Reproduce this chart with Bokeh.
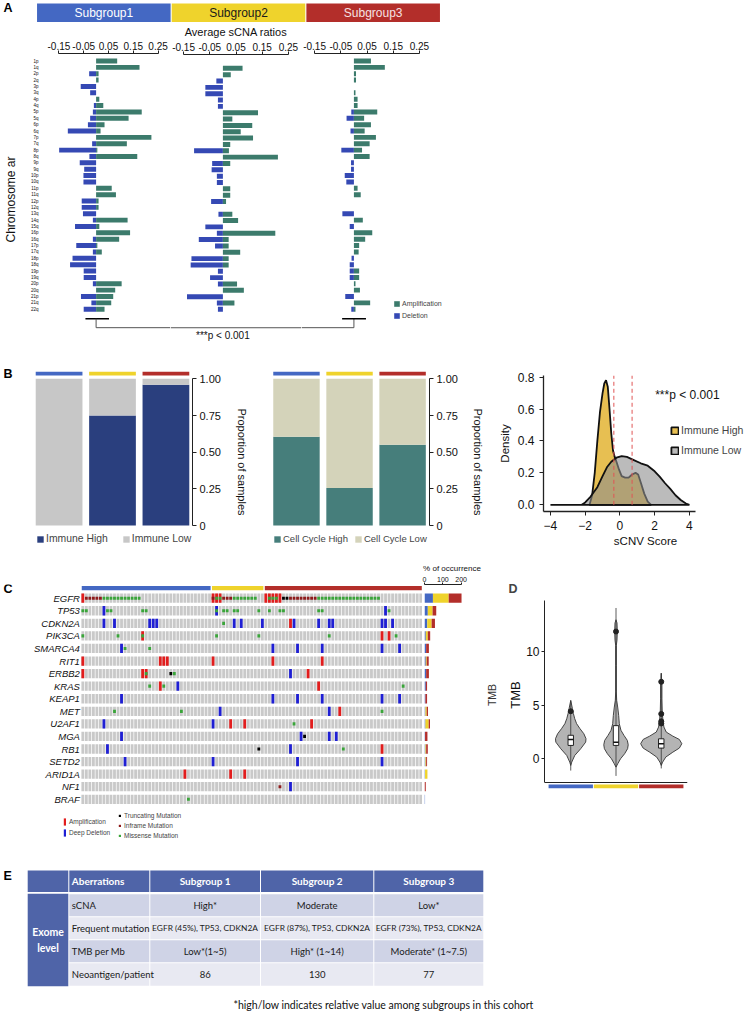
from bokeh.plotting import figure
from bokeh.models import (Range1d, FixedTicker, NumeralTickFormatter, LinearAxis,
                          Legend, LegendItem, Label, ColumnDataSource)
from bokeh.layouts import row, column
from bokeh.core.properties import value
from bokeh.embed import file_html
from bokeh.resources import INLINE

# ------------------------------------------------------------------ data
SUBGROUPS = ["Subgroup1", "Subgroup2", "Subgroup3"]
ARMS = ["1p", "1q", "2p", "2q", "3p", "3q", "4p", "4q", "5p", "5q", "6p", "6q", "7p", "7q",
        "8p", "8q", "9p", "9q", "10p", "10q", "11p", "11q", "12p", "12q", "13q", "14q", "15q",
        "16p", "16q", "17p", "17q", "18p", "18q", "19p", "19q", "20p", "20q", "21p", "21q", "22q"]
SG1_AMP = [0.085, 0.175, 0.01, 0.01, 0, 0, 0.013, 0.029, 0.184, 0.131, 0.034, 0.018, 0.223, 0.124,
           0.005, 0.166, 0, 0, 0, 0, 0.063, 0.08, 0.01, 0.01, 0, 0.127, 0.013, 0.137, 0.093, 0.005,
           0.023, 0, 0, 0, 0, 0.103, 0.077, 0.069, 0.061, 0.034]
SG1_DEL = [0, 0, -0.028, 0, -0.062, -0.024, 0, -0.009, -0.013, -0.024, -0.033, -0.114, 0, -0.016,
           -0.149, -0.027, -0.066, -0.048, -0.051, -0.051, 0, 0, -0.058, -0.058, -0.053, -0.013,
           -0.085, 0, -0.013, -0.08, -0.013, -0.095, -0.105, -0.05, -0.05, -0.013, 0, -0.061,
           -0.019, -0.05]
SG2_AMP = [0, 0.075, 0.03, 0, 0, 0, 0, 0, 0.134, 0.036, 0.112, 0.068, 0.115, 0.028, 0.023, 0.21,
           0.028, 0, 0, 0, 0.028, 0.028, 0.012, 0, 0.036, 0.058, 0, 0.2, 0.022, 0.022, 0.066,
           0.022, 0.022, 0, 0, 0.054, 0.08, 0, 0.044, 0]
SG2_DEL = [0, 0, 0, -0.025, -0.067, -0.067, -0.019, -0.019, 0, 0, 0, 0, 0, 0, -0.11, 0, -0.041,
           -0.043, -0.023, -0.023, 0, 0, -0.045, 0, -0.017, 0, -0.067, -0.023, -0.092, -0.03, 0,
           -0.12, -0.123, -0.019, -0.049, -0.019, 0, -0.137, -0.023, -0.019]
SG3_AMP = [0.065, 0.118, 0.008, 0.008, 0, 0.006, 0.014, 0.014, 0.089, 0.039, 0.065, 0.041, 0.084,
           0.06, 0.031, 0.06, 0, 0, 0, 0, 0.014, 0.026, 0, 0, 0, 0.034, 0, 0.07, 0.043, 0.02,
           0.018, 0, 0, 0.02, 0.02, 0.006, 0.023, 0, 0.062, 0.006]
SG3_DEL = [0, 0, 0, 0, 0, 0, 0, 0, -0.01, -0.028, 0, -0.013, 0, 0, -0.048, 0, -0.011, -0.011,
           -0.035, -0.029, 0, 0, 0, 0, -0.044, 0, -0.016, 0, 0, 0, 0, -0.009, -0.016, -0.016,
           -0.016, 0, 0, -0.033, 0, -0.01]
A_TICKS = [-0.15, -0.05, 0.05, 0.15, 0.25]

IMMUNE_HIGH = [0.0, 0.75, 0.96]
IMMUNE_LOW = [1.0, 0.25, 0.04]
CC_HIGH = [0.605, 0.255, 0.55]
CC_LOW = [0.395, 0.745, 0.45]

DENS_HIGH_X = [-1.75, -1.6, -1.45, -1.3, -1.15, -1.0, -0.9, -0.8, -0.7, -0.6, -0.5, -0.4, -0.3,
               -0.2, -0.05, 0.1, 0.3, 0.5, 0.7, 0.9, 1.05, 1.2, 1.4, 1.6, 1.8]
DENS_HIGH_Y = [0, 0.06, 0.2, 0.4, 0.58, 0.7, 0.76, 0.78, 0.74, 0.6, 0.45, 0.34, 0.3, 0.27, 0.22,
               0.18, 0.17, 0.17, 0.19, 0.2, 0.19, 0.14, 0.07, 0.02, 0]
DENS_LOW_X = [-4.0, -2.2, -2.0, -1.7, -1.3, -1.0, -0.75, -0.5, -0.2, 0.1, 0.4, 0.8, 1.2, 1.6, 2.0,
              2.3, 2.6, 2.9, 3.2, 3.5, 3.8, 4.0]
DENS_LOW_Y = [0, 0, 0.015, 0.05, 0.11, 0.18, 0.235, 0.27, 0.295, 0.305, 0.3, 0.28, 0.26, 0.245,
              0.21, 0.175, 0.135, 0.1, 0.06, 0.03, 0.008, 0]
SCNV_MEANS = [-0.35, 0.7]
P_TEXT = "***p < 0.001"

GENES = ["EGFR", "TP53", "CDKN2A", "PIK3CA", "SMARCA4", "RIT1", "ERBB2", "KRAS", "KEAP1", "MET",
         "U2AF1", "MGA", "RB1", "SETD2", "ARID1A", "NF1", "BRAF"]
GROUP_SIZES = [37, 15, 45]
AMP = {"EGFR": [0, 37, 38, 39, 52, 53, 54, 55, 56], "CDKN2A": [59], "PIK3CA": [17, 85, 87],
       "RIT1": [0, 22, 23, 24, 37, 54, 68], "ERBB2": [0, 17, 18, 64], "KRAS": [22, 67],
       "MET": [73], "U2AF1": [42, 46, 65], "RB1": [85], "ARID1A": [29, 42, 46]}
DEEP_DEL = {"TP53": [6, 38, 86],
            "CDKN2A": [6, 9, 19, 20, 21, 43, 45, 51, 60, 67, 70, 71, 85, 86, 88],
            "SMARCA4": [11, 54, 61, 68, 85, 90], "ERBB2": [59], "KRAS": [27],
            "KEAP1": [11, 54, 61, 68, 85, 90], "MET": [39, 70], "U2AF1": [6, 37],
            "MGA": [11, 62, 70, 72], "RB1": [7, 59], "SETD2": [12, 37, 61, 85], "NF1": [59]}
MISSENSE = {"EGFR": [6, 7, 8, 9, 10, 11, 12, 13, 14, 15, 16, 38, 39, 43, 44, 45, 46, 47, 48, 49,
                     53, 54, 55, 67, 68, 69, 70, 71, 72, 73, 74, 75, 76, 77, 78, 79, 80, 81, 82,
                     83, 84],
            "TP53": [0, 1, 7, 8, 17, 18, 38, 40, 41, 43, 44, 50, 53, 56, 57, 67, 68, 87],
            "CDKN2A": [40], "PIK3CA": [0, 10, 17, 38, 50, 70, 89], "SMARCA4": [12, 19],
            "ERBB2": [18, 26], "KRAS": [19, 23, 91], "MET": [9, 28, 85], "U2AF1": [60],
            "RB1": [74], "BRAF": [30]}
TRUNC = {"EGFR": [57, 58], "ERBB2": [25], "MGA": [63], "RB1": [50]}
INFRAME = {"EGFR": [1, 2, 3, 4, 5, 37, 40, 41, 42, 59, 60, 61, 62, 63, 64, 65, 66], "NF1": [56]}
OCC_SG1 = [46, 18, 15, 7, 9, 7, 9, 7, 5, 5, 5, 3, 5, 5, 3, 0, 3]
OCC_SG2 = [86, 26, 24, 11, 0, 5, 0, 0, 0, 7, 18, 0, 4, 4, 13, 0, 0]
OCC_SG3 = [70, 20, 18, 13, 15, 11, 15, 7, 9, 7, 7, 13, 9, 5, 0, 7, 0]
OCC_TICKS = [0, 100, 200]

VIOLIN_Y = [[-0.62, -0.31, 0.31, 0.94, 1.56, 1.88, 2.34, 2.81, 3.28, 3.75, 4.22, 4.69, 5.31, 5.47],
            [-0.78, -0.47, 0.0, 0.47, 0.94, 1.31, 1.72, 2.19, 2.66, 3.28, 4.06, 4.84, 5.47, 6.25,
             8.75, 10.6, 11.1, 11.9, 12.7, 13.0],
            [-0.62, -0.31, 0.16, 0.62, 1.0, 1.41, 1.81, 2.12, 2.5, 2.97, 3.59, 4.38, 5.6, 6.9,
             7.5, 8.0]]
VIOLIN_W = [[0, 0.022, 0.088, 0.22, 0.33, 0.337, 0.29, 0.205, 0.13, 0.088, 0.059, 0.037, 0.007, 0],
            [0, 0.037, 0.1, 0.19, 0.256, 0.27, 0.25, 0.176, 0.11, 0.073, 0.059, 0.037, 0.015,
             0.007, 0.007, 0.007, 0.022, 0.029, 0.022, 0],
            [0, 0.03, 0.1, 0.256, 0.4, 0.455, 0.4, 0.256, 0.11, 0.059, 0.037, 0.022, 0.015,
             0.015, 0.007, 0]]
BOX_Q1 = [1.25, 1.25, 1.0]
BOX_MED = [1.8, 1.55, 1.4]
BOX_Q3 = [2.2, 3.1, 1.87]
WHISK_LO = [-1.1, -1.6, -0.9]
WHISK_HI = [5.4, 14.1, 8.0]
OUTLIER_G = [1, 2, 3, 3, 3, 3]
OUTLIER_V = [4.45, 11.9, 7.2, 4.2, 3.5, 3.3]
TMB_TICKS = [0, 5, 10]

TABLE_HEADER = ["", "Aberrations", "Subgroup 1", "Subgroup 2", "Subgroup 3"]
TABLE_ROWS = ["sCNA", "Frequent mutation", "TMB per Mb", "Neoantigen/patient"]
TABLE_SG1 = ["High*", "EGFR (45%), TP53, CDKN2A", "Low*(1~5)", "86"]
TABLE_SG2 = ["Moderate", "EGFR (87%), TP53, CDKN2A", "High* (1~14)", "130"]
TABLE_SG3 = ["Low*", "EGFR (73%), TP53, CDKN2A", "Moderate* (1~7.5)", "77"]
TABLE_LEVEL = ["Exome", "level"]
FOOTNOTE = "*high/low indicates relative value among subgroups in this cohort"

# ------------------------------------------------------------------ style
FONT = "Liberation Sans"
TFONT = "Lato"
SG_COLORS = ["#4468c3", "#efd32c", "#b32e2a"]
AMP_C, DEL_C = "#3c7b6c", "#3549b4"
GIDX = list(range(len(SUBGROUPS)))


def base(width, height, xr, yr, l=0, r=0, t=0, b=0, **kw):
    p = figure(width=width, height=height, x_range=xr, y_range=yr, output_backend="svg",
               toolbar_location=None, min_border_left=l, min_border_right=r,
               min_border_top=t, min_border_bottom=b, **kw)
    p.frame_align = False
    p.outline_line_color = None
    p.grid.visible = False
    p.background_fill_color = "white"
    p.border_fill_color = "white"
    return p


def letter(p, txt, x, y, size="12.5px"):
    p.text(x=[x], y=[y], text=[txt], text_font=value(FONT), text_font_size=size,
           text_font_style="bold", text_baseline="middle", text_align="left",
           text_color="black")


def style_axis(ax, size="11px"):
    ax.major_label_text_font = FONT
    ax.major_label_text_font_size = size
    ax.major_label_text_color = "#111"
    ax.axis_label_text_font = FONT
    ax.axis_label_text_font_style = "normal"
    ax.axis_label_text_color = "#111"
    ax.minor_tick_line_color = None
    ax.major_tick_in = 0
    ax.axis_line_color = "#222"
    ax.major_tick_line_color = "#222"


# ------------------------------------------------------------------ panel A
HPX = 134.67  # header pixels per subgroup
hdr = base(440, 22, Range1d(-36 / HPX, 3.0), Range1d(0, 22 / 19), x_axis_location=None,
           y_axis_location=None)
hdr.quad(left=[i + 0.004 for i in GIDX], right=[i + 0.996 for i in GIDX], bottom=0, top=1,
         fill_color=SG_COLORS, line_color=None)
hdr.text(x=[i + 0.5 for i in GIDX], y=0.5, text=SUBGROUPS,
         text_color=["white", "#1a1a1a", "#f6e2e2"], text_font=value(FONT),
         text_font_size="12px", text_align="center", text_baseline="middle")
letter(hdr, "A", -36 / HPX + 3 / HPX, 14.5 / 19)

yrA = Range1d(44.7, -1.18)


def arm_fig(width, l, r, xr, amp, dele, show_y=False, xlabel=None):
    p = base(width, 323, xr, yrA, l=l, r=r, t=31, b=0,
             x_axis_location="above", y_axis_location="left" if show_y else None)
    ax = p.xaxis[0]
    style_axis(ax, "10px")
    ax.ticker = FixedTicker(ticks=A_TICKS)
    ax.formatter = NumeralTickFormatter(format="0.00")
    ax.bounds = (A_TICKS[0], A_TICKS[-1])
    ax.major_tick_out = 3
    ax.major_label_standoff = 1
    if xlabel:
        ax.axis_label = xlabel
        ax.axis_label_text_font_size = "11px"
        ax.axis_label_standoff = 2
    if show_y:
        ay = p.yaxis[0]
        style_axis(ay, "4.5px")
        ay.ticker = FixedTicker(ticks=list(range(len(ARMS))))
        ay.major_label_overrides = {i: a for i, a in enumerate(ARMS)}
        ay.axis_line_color = None
        ay.major_tick_line_color = None
        ay.major_label_standoff = 2
        ay.axis_label = "Chromosome ar"
        ay.axis_label_text_font_size = "12px"
        ay.axis_label_standoff = 10
    src = ColumnDataSource(dict(i=list(range(len(ARMS))), amp=amp, dele=dele))
    rd = p.hbar(y="i", left="dele", right=0, height=0.78, fill_color=DEL_C, line_color=None,
                source=src)
    ra = p.hbar(y="i", left=0, right="amp", height=0.78, fill_color=AMP_C, line_color=None,
                source=src)
    return p, ra, rd


a1, _, _ = arm_fig(170, 39, 0, Range1d(-0.2, 0.3), SG1_AMP, SG1_DEL, show_y=True)
a2, _, _ = arm_fig(131, 0, 0, Range1d(-0.2, 0.3), SG2_AMP, SG2_DEL,
                   xlabel="Average sCNA ratios")
a3, ra3, rd3 = arm_fig(148, 0, 0, Range1d(-0.2, 0.3 + 17 / 262.5), SG3_AMP, SG3_DEL)

# significance bracket between subgroup 1 and subgroup 3
a1.segment(x0=[-0.043], y0=[40.5], x1=[0.052], y1=[40.5], line_color="black", line_width=1.6)
a1.line(x=[0, 0, 0.3], y=[40.5, 41.9, 41.9], line_color="#555", line_width=1)
a2.line(x=[-0.2, 0.3], y=[41.9, 41.9], line_color="#555", line_width=1)
a3.line(x=[-0.2, 0, 0], y=[41.9, 41.9, 40.5], line_color="#555", line_width=1)
a3.segment(x0=[-0.045], y0=[40.5], x1=[0.046], y1=[40.5], line_color="black", line_width=1.6)
a2.add_layout(Label(x=0, y=43.2, text=P_TEXT, text_font=FONT, text_font_size="10px",
                    text_align="center", text_baseline="middle", text_color="#111"))

legA = Legend(items=[LegendItem(label="Amplification", renderers=[ra3]),
                     LegendItem(label="Deletion", renderers=[rd3])],
              location=(92, 25), glyph_width=7, glyph_height=7, label_text_font=FONT,
              label_text_font_size="7px", label_height=10, spacing=2, padding=0, margin=0,
              label_standoff=2, border_line_color=None, background_fill_alpha=0)
a3.add_layout(legA)

rowA = row(a1, a2, a3)

# ------------------------------------------------------------------ panel B
BPX = 54.25  # pixels per bar slot
BPY = 146.7  # pixels per unit proportion


def stack_fig(width, r, xr, high, low, colors, labels, axis_standoff, leg_x, leg_font,
              leg_spacing):
    p = base(width, 215, xr, Range1d(-35 / BPY, 1.05 + 8 / BPY), l=0, r=r, t=18, b=0,
             x_axis_location=None, y_axis_location="right")
    src = ColumnDataSource(dict(g=GIDX, high=high, low=low))
    rs = p.vbar_stack(["high", "low"], x="g", width=0.875, fill_color=colors,
                      line_color=None, source=src)
    p.vbar(x=GIDX, bottom=1.022, top=1.048, width=0.875, fill_color=SG_COLORS,
           line_color=None)
    ay = p.yaxis[0]
    style_axis(ay, "11px")
    ay.ticker = FixedTicker(ticks=[0, 0.25, 0.5, 0.75, 1])
    ay.major_label_overrides = {0: "0", 0.25: "0.25", 0.5: "0.50", 0.75: "0.75", 1: "1.00"}
    ay.bounds = (0, 1)
    ay.major_tick_out = 4
    ay.major_label_standoff = 3
    ay.axis_label = "Proportion of samples"
    ay.axis_label_text_font_size = "11px"
    ay.axis_label_standoff = axis_standoff
    leg = Legend(items=[LegendItem(label=labels[0], renderers=[rs[0]]),
                        LegendItem(label=labels[1], renderers=[rs[1]])],
                 orientation="horizontal", location=(leg_x, 15), glyph_width=8,
                 glyph_height=8, label_text_font=FONT, label_text_font_size=leg_font,
                 label_height=13, spacing=leg_spacing, padding=0, margin=0,
                 label_standoff=2, border_line_color=None, background_fill_alpha=0)
    p.add_layout(leg)
    return p


b1 = stack_fig(250, 55, Range1d(-59.5 / BPX, 2 + 27 / BPX), IMMUNE_HIGH, IMMUNE_LOW,
               ["#2a3f7e", "#c7c7c7"], ["Immune High", "Immune Low"], 12, 36, "10.4px", 14)
letter(b1, "B", -59.5 / BPX + 3 / BPX, 1.036)
b2 = stack_fig(236, 53, Range1d(-47 / BPX, 2 + 27.5 / BPX), CC_HIGH, CC_LOW,
               ["#467e7b", "#d4d3ba"], ["Cell Cycle High", "Cell Cycle Low"], 11, 23,
               "9.5px", 6)

DPX = 17.37
b3 = base(261, 215, Range1d(-4.4, -4.4 + 204 / DPX), Range1d(-0.042, 0.81), l=57, r=0, t=30,
          b=49)
rh = b3.patch(DENS_HIGH_X, DENS_HIGH_Y, fill_color="#e4b83f", fill_alpha=0.9,
              line_color="#111", line_width=1.8)
rl = b3.patch(DENS_LOW_X, DENS_LOW_Y, fill_color="#8e8e8e", fill_alpha=0.6,
              line_color="#111", line_width=1.8)
b3.segment(x0=SCNV_MEANS, y0=0, x1=SCNV_MEANS, y1=0.81, line_color="#e05555",
           line_dash="4 3", line_width=1)
for ax in (b3.xaxis[0], b3.yaxis[0]):
    style_axis(ax, "12px")
    ax.major_tick_out = 4
    ax.axis_label_text_font_size = "11.5px"
    ax.axis_line_width = 1.3
b3.xaxis[0].ticker = FixedTicker(ticks=[-4, -2, 0, 2, 4])
b3.xaxis[0].bounds = (-4.4, 4.35)
b3.xaxis[0].axis_label = "sCNV Score"
b3.xaxis[0].axis_label_standoff = 2
b3.yaxis[0].ticker = FixedTicker(ticks=[0, 0.2, 0.4, 0.6, 0.8])
b3.yaxis[0].formatter = NumeralTickFormatter(format="0.0")
b3.yaxis[0].axis_label = "Density"
b3.yaxis[0].axis_label_standoff = 4
b3.add_layout(Label(x=2.03, y=0.685, text=P_TEXT, text_font=FONT, text_font_size="12px",
                    text_align="left", text_baseline="middle", text_color="#111"))
legD = Legend(items=[LegendItem(label="Immune High", renderers=[rh]),
                     LegendItem(label="Immune Low", renderers=[rl])],
              location=(127, 55), glyph_width=9, glyph_height=9, label_text_font=FONT,
              label_text_font_size="10.5px", label_height=12, spacing=8, padding=0,
              margin=0, label_standoff=2, border_line_color=None, background_fill_alpha=0)
b3.add_layout(legD)

rowB = row(b1, b2, b3)

# ------------------------------------------------------------------ panel C
NS = sum(GROUP_SIZES)
CPX = 341.2 / NS
yrC = Range1d(19.28, -1.09)
c1 = base(422, 285, Range1d(-0.5 - 80.5 / CPX, NS - 0.5), yrC, l=0, r=0, t=24, b=5,
          x_axis_location=None, y_axis_location=None)
bx = [s for g in range(len(GENES)) for s in range(NS)]
by = [g for g in range(len(GENES)) for s in range(NS)]
c1.rect(x=bx, y=by, width=0.8, height=0.74, fill_color="#c9c9c9", line_color=None)


def alt_xy(d):
    xs, ys = [], []
    for g, cols in d.items():
        for s in cols:
            xs.append(s)
            ys.append(GENES.index(g))
    return xs, ys


x, y = alt_xy(AMP)
r_amp = c1.rect(x=x, y=y, width=0.8, height=0.74, fill_color="#e21d1d", line_color=None)
x, y = alt_xy(DEEP_DEL)
r_del = c1.rect(x=x, y=y, width=0.8, height=0.74, fill_color="#1f1fd4", line_color=None)
x, y = alt_xy(MISSENSE)
r_mis = c1.rect(x=x, y=y, width=0.8, height=0.25, fill_color="#3aa53a", line_color=None)
x, y = alt_xy(INFRAME)
r_inf = c1.rect(x=x, y=y, width=0.8, height=0.25, fill_color="#8e1b1b", line_color=None)
x, y = alt_xy(TRUNC)
r_tru = c1.rect(x=x, y=y, width=0.8, height=0.25, fill_color="black", line_color=None)

starts = [sum(GROUP_SIZES[:k]) for k in range(3)]
ends = [sum(GROUP_SIZES[:k + 1]) for k in range(3)]
c1.quad(left=[s - 0.5 + 0.2 for s in starts], right=[e - 0.5 - 0.2 for e in ends],
        top=-0.98, bottom=-0.63, fill_color=SG_COLORS, line_color=None)

c1.text(x=[-0.5 - 1.2 / CPX] * len(GENES), y=list(range(len(GENES))), text=GENES,
        text_font=value(FONT), text_font_size="9.5px", text_font_style="italic",
        text_color="#111", text_align="right", text_baseline="middle")
letter(c1, "C", -0.5 - 77.5 / CPX, -0.77)

legC1 = Legend(items=[LegendItem(label="Amplification", renderers=[r_amp]),
                      LegendItem(label="Deep Deletion", renderers=[r_del])],
               location=(63, 3), glyph_width=3, glyph_height=9, label_text_font=FONT,
               label_text_font_size="6.5px", label_height=9, spacing=2, padding=0, margin=0,
               label_standoff=3, border_line_color=None, background_fill_alpha=0)
legC2 = Legend(items=[LegendItem(label="Truncating Mutation", renderers=[r_tru]),
                      LegendItem(label="Inframe Mutation", renderers=[r_inf]),
                      LegendItem(label="Missense Mutation", renderers=[r_mis])],
               location=(118, 0), glyph_width=3, glyph_height=3, label_text_font=FONT,
               label_text_font_size="6.5px", label_height=9, spacing=1, padding=0, margin=0,
               label_standoff=3, border_line_color=None, background_fill_alpha=0)
c1.add_layout(legC1)
c1.add_layout(legC2)

c2 = base(60, 285, Range1d(0, 300), yrC, l=2, r=3, t=24, b=5, x_axis_location="above",
          y_axis_location=None)
occ_src = ColumnDataSource(dict(gi=list(range(len(GENES))), o1=OCC_SG1, o2=OCC_SG2, o3=OCC_SG3))
c2.hbar_stack(["o1", "o2", "o3"], y="gi", height=0.74, fill_color=SG_COLORS, line_color=None,
              source=occ_src)
ax = c2.xaxis[0]
style_axis(ax, "7px")
ax.ticker = FixedTicker(ticks=OCC_TICKS)
ax.bounds = (0, 200)
ax.major_tick_out = 2
ax.major_label_standoff = 1
ax.axis_label = "% of occurrence"
ax.axis_label_text_font_size = "8px"
ax.axis_label_standoff = 1

# ------------------------------------------------------------------ panel D
d = base(265, 285, Range1d(0.42, 3.58), Range1d(-2.87, 14.8), l=61, r=60, t=40, b=56)
d.title.text = "D"
d.title.align = "left"
d.title.offset = -36
d.title.text_font = FONT
d.title.text_font_size = "12.5px"
d.title.text_font_style = "bold"
vx, vy = [], []
for k in range(3):
    c = k + 1
    ws, ys = VIOLIN_W[k], VIOLIN_Y[k]
    vx.append([c + w for w in ws] + [c - w for w in reversed(ws)])
    vy.append(list(ys) + list(reversed(ys)))
d.patches(vx, vy, fill_color="#b4b4b4", line_color="#444", line_width=1)
d.segment(x0=[1, 2, 3], y0=WHISK_LO, x1=[1, 2, 3], y1=WHISK_HI, line_color="#333",
          line_width=0.8)
d.quad(left=[c - 0.06 for c in (1, 2, 3)], right=[c + 0.06 for c in (1, 2, 3)], bottom=BOX_Q1,
       top=BOX_Q3, fill_color="white", line_color="#222", line_width=1)
d.segment(x0=[c - 0.06 for c in (1, 2, 3)], y0=BOX_MED, x1=[c + 0.06 for c in (1, 2, 3)],
          y1=BOX_MED, line_color="#111", line_width=1.5)
d.scatter(OUTLIER_G, OUTLIER_V, size=5, fill_color="#222", line_color="#222")
d.vbar(x=[1, 2, 3], bottom=-2.75, top=-2.4, width=0.98, fill_color=SG_COLORS, line_color=None)
ax = d.xaxis[0]
style_axis(ax, "1px")
ax.fixed_location = -2.2
ax.ticker = FixedTicker(ticks=[])
ax.major_tick_line_color = None
ay = d.yaxis[0]
style_axis(ay, "12px")
ay.ticker = FixedTicker(ticks=TMB_TICKS)
ay.bounds = (-2.2, 14.8)
ay.major_tick_out = 3
ay.major_label_standoff = 2
ay.axis_label = "TMB"
ay.axis_label_text_font_size = "13px"
ay.axis_label_standoff = 0
ay2 = LinearAxis(ticker=FixedTicker(ticks=[]), axis_label="TMB", axis_line_color=None,
                 major_tick_line_color=None, minor_tick_line_color=None,
                 major_label_text_font_size="1px", axis_label_text_font=FONT,
                 axis_label_text_font_size="10.5px", axis_label_text_font_style="normal",
                 axis_label_text_color="#333", axis_label_standoff=8)
d.add_layout(ay2, "left")

rowC = row(c1, c2, d)

# ------------------------------------------------------------------ panel E
e = base(747, 167, Range1d(0, 747), Range1d(1012, 845), x_axis_location=None,
         y_axis_location=None)
COL_X = [26.7, 68.3, 149.3, 260.0, 373.3, 483.3]
HDR_Y = [870.0, 891.5]
ROW_Y = [893.3, 916.3, 939.3, 962.3, 985.7]
HDR_C = "#4f64a8"
e.quad(left=[COL_X[i] + 0.5 for i in range(5)], right=[COL_X[i + 1] - 0.5 for i in range(5)],
       top=HDR_Y[0], bottom=HDR_Y[1], fill_color=HDR_C, line_color=None)
e.quad(left=[COL_X[0] + 0.5], right=[COL_X[1] - 0.5], top=ROW_Y[0], bottom=ROW_Y[-1],
       fill_color=HDR_C, line_color=None)
ql, qr, qt, qb, qc = [], [], [], [], []
for r in range(4):
    for i in range(1, 5):
        ql.append(COL_X[i] + 0.5)
        qr.append(COL_X[i + 1] - 0.5)
        qt.append(ROW_Y[r] + 0.5)
        qb.append(ROW_Y[r + 1] - 0.5)
        qc.append("#cfd3e6" if r % 2 == 0 else "#e8e9f2")
e.quad(left=ql, right=qr, top=qt, bottom=qb, fill_color=qc, line_color=None)

ROW_FONT = ["9.5px", "8.4px", "9.5px", "9.5px"]
hy = (HDR_Y[0] + HDR_Y[1]) / 2
e.text(x=[COL_X[1] + 3], y=[hy], text=[TABLE_HEADER[1]], text_color="white",
       text_font=value(TFONT), text_font_size="10px", text_font_style="bold",
       text_align="left", text_baseline="middle")
e.text(x=[(COL_X[i] + COL_X[i + 1]) / 2 for i in range(2, 5)], y=[hy] * 3,
       text=TABLE_HEADER[2:], text_color="white", text_font=value(TFONT),
       text_font_size="10px", text_font_style="bold", text_align="center",
       text_baseline="middle")
rc = [(ROW_Y[r] + ROW_Y[r + 1]) / 2 for r in range(4)]
e.text(x=[COL_X[1] + 3] * 4, y=rc, text=TABLE_ROWS, text_color="#1a1a1a",
       text_font=value(TFONT), text_font_size="9.5px", text_align="left",
       text_baseline="middle")
for i, colvals in zip(range(2, 5), (TABLE_SG1, TABLE_SG2, TABLE_SG3)):
    e.text(x=[(COL_X[i] + COL_X[i + 1]) / 2] * 4, y=rc, text=colvals, text_color="#1a1a1a",
           text_font=value(TFONT), text_font_size=ROW_FONT, text_align="center",
           text_baseline="middle")
e.text(x=[(COL_X[0] + COL_X[1]) / 2] * 2, y=[931.7, 947.7], text=TABLE_LEVEL,
       text_color="white", text_font=value(TFONT), text_font_size="10.5px",
       text_font_style="bold", text_align="center", text_baseline="middle")
e.text(x=[3], y=[875], text=["E"], text_color="black", text_font=value(FONT),
       text_font_size="12.5px", text_font_style="bold", text_align="left",
       text_baseline="middle")
e.text(x=[233], y=[1004], text=[FOOTNOTE], text_color="#111", text_font=value(TFONT),
       text_font_size="10.5px", text_align="left", text_baseline="middle")

layout = column(hdr, rowA, rowB, rowC, e)
open("out.html", "w").write(file_html(layout, INLINE))
